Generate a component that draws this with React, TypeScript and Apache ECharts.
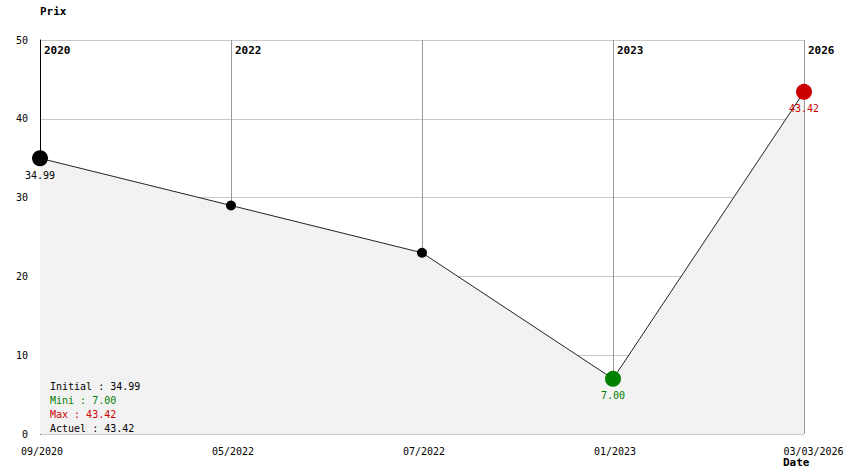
import React, { useEffect, useRef } from "react";
import * as echarts from "echarts";

const dates = ["09/2020", "05/2022", "07/2022", "01/2023", "03/03/2026"];
const years = ["2020", "2022", "", "2023", "2026"];
const prices = [34.99, 29.0, 23.0, 7.0, 43.42];
const yTicks = [0, 10, 20, 30, 40, 50];

const GREEN = "#008000";
const RED = "#cc0000";
const FONT = "'DejaVu Sans Mono', 'Liberation Mono', monospace";

export default function App() {
  const ref = useRef<HTMLDivElement>(null);
  useEffect(() => {
    if (!ref.current) return;
    const chart = echarts.init(ref.current, undefined, { renderer: "svg" });
    const initial = prices[0];
    const actual = prices[prices.length - 1];
    const minV = Math.min(...prices);
    const maxV = Math.max(...prices);
    const minI = prices.indexOf(minV);
    const maxI = prices.indexOf(maxV);
    const data = prices.map((v, i) => {
      let color = "#000";
      let size = 10;
      let showLabel = false;
      if (i === 0) { size = 16; showLabel = true; }
      if (i === minI) { color = GREEN; size = 16; showLabel = true; }
      if (i === maxI) { color = RED; size = 16; showLabel = true; }
      return {
        value: v,
        symbolSize: size,
        itemStyle: { color },
        label: {
          show: showLabel,
          position: "bottom",
          distance: 4,
          color: i === 0 ? "#000" : color,
          fontFamily: FONT,
          fontSize: 10,
          formatter: (p: any) => Number(p.value).toFixed(2),
        },
      };
    });
    chart.setOption({
      animation: false,
      grid: {
        left: 40,
        right: 40,
        top: 40,
        bottom: 40,
        containLabel: false,
        outerBoundsMode: "none",
      },
      xAxis: [
        {
          type: "category",
          data: dates,
          boundaryGap: false,
          axisLine: { show: false },
          axisTick: { show: false },
          axisLabel: {
            interval: 0,
            margin: 12,
            color: "#000",
            fontFamily: FONT,
            fontSize: 10,
            hideOverlap: false,
            formatter: (v: string, i: number) =>
              i === dates.length - 1 ? `{e|${v}}` : `{n|${v}}`,
            rich: {
              n: { padding: [0, 0, 0, 4], fontFamily: FONT, fontSize: 10, color: "#000" },
              e: { padding: [0, 0, 0, 19], fontFamily: FONT, fontSize: 10, color: "#000" },
            },
          },
          splitLine: { show: true, lineStyle: { color: "#999", width: 1 } },
        },
        {
          type: "category",
          data: years,
          boundaryGap: false,
          position: "top",
          axisLine: { show: false },
          axisTick: { show: false },
          splitLine: { show: false },
          axisLabel: {
            inside: true,
            interval: 0,
            align: "left",
            verticalAlign: "top",
            margin: 5,
            padding: [0, 0, 0, 4],
            color: "#000",
            fontFamily: FONT,
            fontSize: 11,
            fontWeight: "bold",
            hideOverlap: false,
          },
        },
      ],
      yAxis: {
        type: "value",
        min: yTicks[0],
        max: yTicks[yTicks.length - 1],
        interval: 10,
        axisLine: { show: true, lineStyle: { color: "#000", width: 1 } },
        axisTick: { show: false },
        axisLabel: { margin: 12, color: "#000", fontFamily: FONT, fontSize: 10 },
        splitLine: { show: true, lineStyle: { color: "#c8c8c8", width: 1 } },
      },
      series: [
        {
          type: "line",
          data,
          symbol: "circle",
          lineStyle: { color: "#222", width: 1 },
          areaStyle: { color: "#f2f2f2", opacity: 1 },
          z: 3,
        },
      ],
      graphic: [
        {
          type: "text",
          left: 40,
          top: 6,
          style: { text: "Prix", fontFamily: FONT, fontSize: 11, fontWeight: "bold", fill: "#000" },
        },
        {
          type: "text",
          left: 783,
          top: 457,
          style: { text: "Date", fontFamily: FONT, fontSize: 11, fontWeight: "bold", fill: "#000" },
        },
        {
          type: "text",
          left: 50,
          top: 379,
          z: 10,
          style: {
            text: [
              `{a|Initial : ${initial.toFixed(2)}}`,
              `{g|Mini : ${minV.toFixed(2)}}`,
              `{r|Max : ${maxV.toFixed(2)}}`,
              `{a|Actuel : ${actual.toFixed(2)}}`,
            ].join("\n"),
            fontFamily: FONT,
            fontSize: 10,
            lineHeight: 14,
            rich: {
              a: { fill: "#000", fontFamily: FONT, fontSize: 10, lineHeight: 14 },
              g: { fill: GREEN, fontFamily: FONT, fontSize: 10, lineHeight: 14 },
              r: { fill: RED, fontFamily: FONT, fontSize: 10, lineHeight: 14 },
            },
          },
        },
      ],
    });
    return () => chart.dispose();
  }, []);
  return <div ref={ref} style={{ width: 844, height: 474, position: "absolute", left: 0, top: 0 }} />;
}
